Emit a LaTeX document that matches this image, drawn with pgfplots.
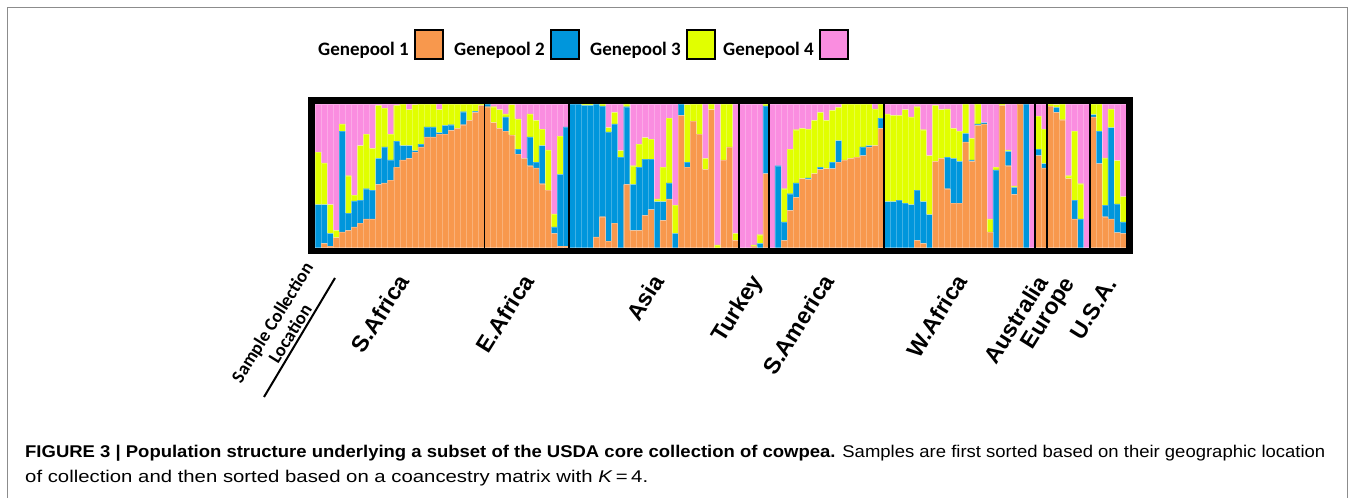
\documentclass[border=0pt]{standalone}
\usepackage{graphicx}
\usepackage{pgfplots}
\pgfplotsset{compat=1.18}
\usepackage{pgfplotstable}
\usepackage{fontspec}
\setmainfont{Liberation Sans}
\newfontfamily\carlito{Carlito}
\definecolor{gpA}{HTML}{F8984D}
\definecolor{gpB}{HTML}{0096DC}
\definecolor{gpC}{HTML}{E1FF00}
\definecolor{gpD}{HTML}{FA8DE0}
\pgfplotstableread{
x go gb gy gp
0.5 0 0.30 0.365 0.335
1.5 0.03 0.27 0.29 0.41
2.5 0.01 0.09 0.20 0.70
3.5 0.07 0 0.05 0.88
4.5 0.11 0.70 0.05 0.14
5.5 0.12 0.12 0.26 0.50
6.5 0.145 0.18 0.04 0.635
7.5 0.17 0.16 0.38 0.29
8.5 0.20 0.21 0.38 0.21
9.5 0.20 0.20 0.29 0.31
10.5 0.44 0.18 0.37 0.01
11.5 0.45 0.25 0.27 0.03
12.5 0.47 0.14 0.18 0.21
13.5 0.56 0.18 0.25 0.01
14.5 0.61 0.10 0.29 0
15.5 0.62 0.09 0.25 0.04
16.5 0.665 0.01 0.32 0.005
17.5 0.70 0.02 0.28 0
18.5 0.77 0.07 0.16 0
19.5 0.77 0.07 0.16 0
20.5 0.79 0.01 0.16 0.04
21.5 0.79 0.06 0.15 0
22.5 0.815 0.04 0.145 0
23.5 0.83 0 0.17 0
24.5 0.855 0.09 0.055 0
25.5 0.885 0 0.115 0
26.5 0.94 0.01 0.05 0
27.5 0.99 0 0.01 0
28.5 0.98 0.02 0 0
29.5 0.87 0 0.11 0.02
30.5 0.83 0 0.13 0.04
31.5 0.81 0.10 0.02 0.07
32.5 0.785 0 0.21 0.005
33.5 0.65 0.035 0.21 0.105
34.5 0.62 0 0 0.38
35.5 0.57 0.20 0.16 0.07
36.5 0.555 0.04 0.29 0.115
37.5 0.445 0.265 0.115 0.175
38.5 0.40 0 0.28 0.32
39.5 0.10 0.045 0.09 0.765
40.5 0.01 0.50 0.265 0.225
41.5 0.01 0.83 0 0.16
42.5 0 1 0 0
43.5 0 1 0 0
44.5 0 0.99 0.01 0
45.5 0 0.99 0.01 0
46.5 0.075 0.925 0 0
47.5 0.215 0.77 0.015 0
48.5 0.045 0.76 0.03 0.165
49.5 0.17 0.69 0.08 0.06
50.5 0 0.63 0.045 0.325
51.5 0.44 0.54 0.02 0
52.5 0.12 0.32 0.13 0.43
53.5 0.12 0.44 0.16 0.28
54.5 0.225 0.39 0.15 0.235
55.5 0.265 0.35 0.14 0.245
56.5 0 0.32 0.02 0.66
57.5 0.19 0.13 0.24 0.44
58.5 0.34 0.11 0.45 0.10
59.5 0 0.10 0.195 0.705
60.5 0.92 0.08 0 0
61.5 0.56 0.035 0.40 0.005
62.5 0.88 0 0.12 0
63.5 0.79 0 0.21 0
64.5 0.545 0 0.075 0.38
65.5 0.96 0 0.04 0
66.5 0 0 0.02 0.98
67.5 0.61 0 0.39 0
68.5 0.70 0 0.30 0
69.5 0.05 0 0.05 0.90
70.5 0 0 0 1
71.5 0 0 0 1
72.5 0.01 0 0.01 0.98
73.5 0 0.03 0.06 0.91
74.5 0.515 0.47 0.015 0
75.5 0 0 0 1
76.5 0 0.57 0 0.43
77.5 0.05 0.13 0.23 0.59
78.5 0.26 0.115 0.31 0.315
79.5 0.35 0.10 0.37 0.18
80.5 0.48 0 0.35 0.17
81.5 0.475 0.01 0.34 0.175
82.5 0.515 0 0.37 0.115
83.5 0.545 0.015 0.38 0.06
84.5 0.55 0 0.335 0.115
85.5 0.55 0.045 0.36 0.045
86.5 0.595 0.15 0.23 0.025
87.5 0.61 0 0.39 0
88.5 0.62 0 0.38 0
89.5 0.63 0 0.37 0
90.5 0.64 0.06 0.30 0
91.5 0.70 0.01 0.29 0
92.5 0.71 0 0.255 0.035
93.5 0.83 0.07 0.10 0
94.5 0 0.32 0.61 0.07
95.5 0 0.32 0.60 0.08
96.5 0 0.33 0.59 0.08
97.5 0 0.31 0.65 0.04
98.5 0 0.30 0.61 0.09
99.5 0.05 0.35 0.58 0.02
100.5 0.03 0.29 0.50 0.18
101.5 0 0.23 0.41 0.36
102.5 0.60 0 0.39 0.01
103.5 0.62 0 0.34 0.04
104.5 0.41 0.22 0.335 0.035
105.5 0.31 0.31 0.21 0.17
106.5 0.31 0.29 0.21 0.19
107.5 0.735 0.06 0.205 0
108.5 0.60 0.01 0.15 0.24
109.5 0.85 0.01 0.14 0
110.5 0.86 0.01 0 0.13
111.5 0.11 0 0.09 0.80
112.5 0 0.54 0.02 0.44
113.5 0.99 0 0.01 0
114.5 0.57 0.10 0.01 0.32
115.5 0.37 0.05 0.01 0.57
116.5 1 0 0 0
117.5 0 1 0 0
118.5 0 0 0 1
119.5 0.64 0.045 0.23 0.085
120.5 0.555 0.03 0.24 0.175
121.5 0.985 0 0.015 0
122.5 0.94 0.035 0.02 0.005
123.5 0.89 0 0.11 0
124.5 0.48 0 0.02 0.50
125.5 0.20 0.13 0.48 0.19
126.5 0 0.20 0.245 0.555
127.5 0 0 0 1
128.5 0.91 0.015 0.075 0
129.5 0.585 0.225 0.19 0
130.5 0.215 0.08 0.33 0.375
131.5 0.20 0.635 0.13 0.035
132.5 0.105 0.20 0.30 0.395
133.5 0.10 0.08 0.175 0.645
}\structdata
\begin{document}
\begin{tikzpicture}
\begin{scope}[x=1pt,y=1pt]
\path[use as bounding box, fill=white] (0,0) rectangle (1355,498);
\draw[black!45, line width=1pt] (7.5,0) -- (7.5,490) -- (1347.5,490) -- (1347.5,0);
% legend
\tikzset{lt/.style={anchor=base east, inner sep=0, font=\carlito\bfseries\fontsize{19}{23}\selectfont}}
\node[lt] at (409,442) {Genepool 1};
\draw[fill=gpA, line width=2pt] (415,438.5) rectangle (443,467.5);
\node[lt] at (545,442) {Genepool 2};
\draw[fill=gpB, line width=2pt] (551,438.5) rectangle (579,467.5);
\node[lt] at (681,442) {Genepool 3};
\draw[fill=gpC, line width=2pt] (687,438.5) rectangle (715,467.5);
\node[lt] at (814,442) {Genepool 4};
\draw[fill=gpD, line width=2pt] (820,438.5) rectangle (848,467.5);
% region labels
\tikzset{rl/.style={rotate=58, anchor=base east, inner sep=0, font=\bfseries\fontsize{23}{27}\selectfont}}
\node[rl] at (410,217) {S.Africa};
\node[rl] at (535,217) {E.Africa};
\node[rl] at (665,217) {Asia};
\node[rl] at (763,217) {Turkey};
\node[rl] at (835,217) {S.America};
\node[rl] at (968,217) {W.Africa};
\node[rl] at (1049,216) {Australia};
\node[rl] at (1075,215) {Europe};
\node[rl] at (1118,214) {U.S.A.};
\node[rotate=58, align=center, inner sep=0, font=\carlito\bfseries\fontsize{18.5}{21}\selectfont] at (281,170) {Sample Collection\\Location};
\draw[line width=2pt] (335,220) -- (264,101);
% caption
\node[anchor=base west, inner sep=0] at (25,40) {\resizebox{1300pt}{\height}{\fontsize{17}{20}\selectfont\textbf{FIGURE 3 | Population structure underlying a subset of the USDA core collection of cowpea.} Samples are first sorted based on their geographic location}};
\node[anchor=base west, inner sep=0] at (25,15) {\resizebox{623pt}{\height}{\fontsize{17}{20}\selectfont of collection and then sorted based on a coancestry matrix with \textit{K}\,=\,4.}};
\end{scope}
\begin{axis}[
  at={(311.65pt,247pt)}, anchor=south west,
  scale only axis, width=817.7pt, height=150.5pt,
  xmin=-0.5535, xmax=134.5535, ymin=-0.0232, ymax=1.0232,
  ybar stacked, bar width=1,
  xtick=\empty, ytick=\empty,
  extra x ticks={28,42,70,75,94,119,121,128},
  extra x tick labels={},
  extra x tick style={grid=major, major grid style={black, line width=1.8pt}, major tick length=0pt},
  axis line style={line width=6.7pt, black, line cap=rect},
  axis on top,
]
\addplot[fill=gpA, draw=white, draw opacity=0.25, line width=0.3pt] table[x=x, y=go] {\structdata};
\addplot[fill=gpB, draw=white, draw opacity=0.25, line width=0.3pt] table[x=x, y=gb] {\structdata};
\addplot[fill=gpC, draw=white, draw opacity=0.25, line width=0.3pt] table[x=x, y=gy] {\structdata};
\addplot[fill=gpD, draw=white, draw opacity=0.25, line width=0.3pt] table[x=x, y=gp] {\structdata};
\end{axis}
\end{tikzpicture}
\end{document}
